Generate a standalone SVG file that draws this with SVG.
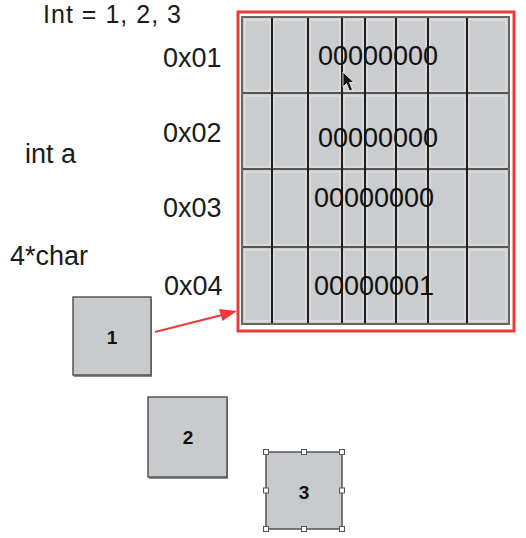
<svg xmlns="http://www.w3.org/2000/svg" width="526" height="538" viewBox="0 0 526 538">
<style>
.lbl{font-family:"Liberation Sans",Arial,sans-serif;font-size:27px;fill:#1a1a1a}
.bits{font-family:"Liberation Sans",Arial,sans-serif;font-size:27px;fill:#111}
.num{font-family:"Liberation Sans",Arial,sans-serif;font-size:19px;font-weight:bold;fill:#111;text-anchor:middle}
.cell{fill:#cbcccd;stroke:#e6e7e8;stroke-width:1}
.vl{stroke:#1e1e1e;stroke-width:2}
.hl{stroke:#555;stroke-width:2}
.box{fill:#c9cacc;stroke:#555;stroke-width:1.5}
.shadow{fill:#8a8a8a}
.handle{fill:#fff;stroke:#555;stroke-width:1}
.arrow{stroke:#f03a3a;stroke-width:2;fill:none}
.head{fill:#f03a3a}
</style>
<rect width="526" height="538" fill="#fff"/>
<g id="labels">
<text class="lbl" x="43" y="23" style="font-size:25px" textLength="138" lengthAdjust="spacing">Int = 1, 2, 3</text>
<text class="lbl" x="163" y="67">0x01</text>
<text class="lbl" x="163" y="142">0x02</text>
<text class="lbl" x="163" y="217">0x03</text>
<text class="lbl" x="164" y="295">0x04</text>
<text class="lbl" x="25" y="163">int a</text>
<text class="lbl" x="10" y="265">4*char</text>
</g>
<g id="memory">
<rect x="238" y="12" width="276" height="319" fill="none" stroke="#f03a3a" stroke-width="3"/>
<rect x="242" y="17" width="267" height="307" fill="#cbcccd"/>
<g>
<rect class="cell" x="245" y="20" width="25" height="71"/><rect class="cell" x="274" y="20" width="32" height="71"/><rect class="cell" x="310" y="20" width="30" height="71"/><rect class="cell" x="344" y="20" width="19" height="71"/><rect class="cell" x="367" y="20" width="27" height="71"/><rect class="cell" x="398" y="20" width="28" height="71"/><rect class="cell" x="430" y="20" width="35" height="71"/><rect class="cell" x="469" y="20" width="37" height="71"/>
<rect class="cell" x="245" y="96" width="25" height="71"/><rect class="cell" x="274" y="96" width="32" height="71"/><rect class="cell" x="310" y="96" width="30" height="71"/><rect class="cell" x="344" y="96" width="19" height="71"/><rect class="cell" x="367" y="96" width="27" height="71"/><rect class="cell" x="398" y="96" width="28" height="71"/><rect class="cell" x="430" y="96" width="35" height="71"/><rect class="cell" x="469" y="96" width="37" height="71"/>
<rect class="cell" x="245" y="172" width="25" height="73"/><rect class="cell" x="274" y="172" width="32" height="73"/><rect class="cell" x="310" y="172" width="30" height="73"/><rect class="cell" x="344" y="172" width="19" height="73"/><rect class="cell" x="367" y="172" width="27" height="73"/><rect class="cell" x="398" y="172" width="28" height="73"/><rect class="cell" x="430" y="172" width="35" height="73"/><rect class="cell" x="469" y="172" width="37" height="73"/>
<rect class="cell" x="245" y="250" width="25" height="71"/><rect class="cell" x="274" y="250" width="32" height="71"/><rect class="cell" x="310" y="250" width="30" height="71"/><rect class="cell" x="344" y="250" width="19" height="71"/><rect class="cell" x="367" y="250" width="27" height="71"/><rect class="cell" x="398" y="250" width="28" height="71"/><rect class="cell" x="430" y="250" width="35" height="71"/><rect class="cell" x="469" y="250" width="37" height="71"/>
</g>
<g>
<line class="hl" x1="242" y1="93" x2="509" y2="93"/>
<line class="hl" x1="242" y1="169" x2="509" y2="169"/>
<line class="hl" x1="242" y1="247" x2="509" y2="247"/>
<line class="vl" x1="272" y1="17" x2="272" y2="324"/>
<line class="vl" x1="308" y1="17" x2="308" y2="324"/>
<line class="vl" x1="342" y1="17" x2="342" y2="324"/>
<line class="vl" x1="365" y1="17" x2="365" y2="324"/>
<line class="vl" x1="396" y1="17" x2="396" y2="324"/>
<line class="vl" x1="428" y1="17" x2="428" y2="324"/>
<line class="vl" x1="467" y1="17" x2="467" y2="324"/>
</g>
<rect x="242" y="17" width="267" height="307" fill="none" stroke="#666" stroke-width="2"/>
<text class="bits" x="318" y="65">00000000</text>
<text class="bits" x="318" y="147">00000000</text>
<text class="bits" x="314" y="207">00000000</text>
<text class="bits" x="314" y="295">00000001</text>
<path d="M343,72 L343,87 L346.5,83.5 L349.5,91 L352.5,89.8 L349.5,82.5 L354,82.5 Z" fill="#111" stroke="#fff" stroke-width="0.8"/>
</g>
<g id="connectors">
<line class="arrow" x1="155" y1="332" x2="222" y2="315"/>
<polygon class="head" points="237,311 219,309 222.5,321"/>
</g>
<g id="node1">
<rect class="shadow" x="74" y="299" width="78" height="78"/>
<rect class="box" x="73" y="297" width="78" height="78"/>
<text class="num" x="112" y="344">1</text>
</g>
<g id="node2">
<rect class="shadow" x="149" y="399" width="79" height="80"/>
<rect class="box" x="148" y="397" width="79" height="80"/>
<text class="num" x="188" y="444">2</text>
</g>
<g id="node3">
<rect class="box" x="266" y="452" width="76" height="77"/>
<text class="num" x="304" y="499">3</text>
<rect class="handle" x="263.5" y="449.5" width="5" height="5"/>
<rect class="handle" x="301.5" y="449.5" width="5" height="5"/>
<rect class="handle" x="339.5" y="449.5" width="5" height="5"/>
<rect class="handle" x="263.5" y="488" width="5" height="5"/>
<rect class="handle" x="339.5" y="488" width="5" height="5"/>
<rect class="handle" x="263.5" y="526.5" width="5" height="5"/>
<rect class="handle" x="301.5" y="526.5" width="5" height="5"/>
<rect class="handle" x="339.5" y="526.5" width="5" height="5"/>
</g>
</svg>
